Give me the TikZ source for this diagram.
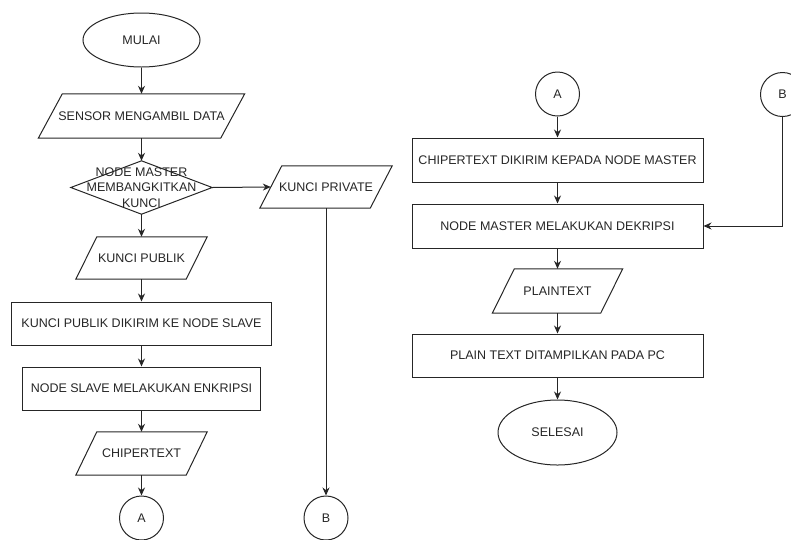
\documentclass[tikz,border=0pt]{standalone}
\usepackage{fontspec}
\setmainfont{Liberation Sans}
\usetikzlibrary{arrows.meta,shapes.geometric}
\begin{document}
\begin{tikzpicture}[x=1pt,y=-1pt,
  every node/.style={font=\fontsize{12.5}{15.5}\selectfont, inner sep=0pt, text=black!85},
  line/.style={line width=1pt, draw=black!85},
  term/.style={line, shape=ellipse, minimum width=117pt, minimum height=#1},
  proc/.style={line, shape=rectangle, minimum width=#1, minimum height=43pt},
  iobox/.style={shape=rectangle, minimum width=#1, minimum height=43pt},
  conn/.style={line, shape=circle, minimum size=44pt},
  arr/.style={line, -{Stealth[length=8pt,width=7pt]}}
]
\useasboundingbox (0,0) rectangle (791,539);

% left column
\node[term=54pt] (mulai) at (141.5,40) {MULAI};
\node[iobox=182pt, minimum height=44pt] (sensor) at (141.5,116) {SENSOR MENGAMBIL DATA};
\node[minimum width=141pt, minimum height=53pt, align=center] (dec) at (141.5,187.5) {NODE MASTER\\MEMBANGKITKAN\\KUNCI};
\node[iobox=110pt, minimum height=42pt] (kpriv) at (326,187) {KUNCI PRIVATE};
\node[iobox=110pt, minimum height=42pt] (kpub) at (141.5,258) {KUNCI PUBLIK};
\node[proc=260pt] (pa) at (141.5,323.5) {KUNCI PUBLIK DIKIRIM KE NODE SLAVE};
\node[proc=238pt] (pb) at (141.5,388.5) {NODE SLAVE MELAKUKAN ENKRIPSI};
\node[iobox=110pt] (chip) at (141.5,453.5) {CHIPERTEXT};
\node[conn] (aone) at (141.5,518) {A};
\node[conn] (bone) at (326,518) {B};

% right column
\node[conn] (atwo) at (557.5,94) {A};
\node[conn] (btwo) at (782.5,94.5) {B};
\node[proc=291pt, minimum height=44pt] (pc) at (557.5,160) {CHIPERTEXT DIKIRIM KEPADA NODE MASTER};
\node[proc=291pt, minimum height=44pt] (pd) at (557.5,226) {NODE MASTER MELAKUKAN DEKRIPSI};
\node[iobox=108pt, minimum height=44pt] (plain) at (557.5,291) {PLAINTEXT};
\node[proc=291pt] (pe) at (557.5,355.5) {PLAIN TEXT DITAMPILKAN PADA PC};
\node[term=65pt, minimum width=119pt] (selesai) at (557.5,432.5) {SELESAI};

% parallelograms
\foreach \n/\k in {sensor/12, kpriv/11, kpub/10.5, chip/10.5, plain/11}
  \draw[line] ([xshift=\k]\n.north west) -- ([xshift=\k]\n.north east)
    -- ([xshift=-\k]\n.south east) -- ([xshift=-\k]\n.south west) -- cycle;

% decision diamond
\draw[line] (dec.north) -- (dec.east) -- (dec.south) -- (dec.west) -- cycle;

% connectors
\draw[arr] (mulai.south) -- (sensor.north);
\draw[arr] (sensor.south) -- (dec.north);
\draw[arr] (dec.east) -- (kpriv.west);
\draw[arr] (dec.south) -- (kpub.north);
\draw[arr] (kpub.south) -- (pa.north);
\draw[arr] (pa.south) -- (pb.north);
\draw[arr] (pb.south) -- (chip.north);
\draw[arr] (chip.south) -- (aone.north);
\draw[arr] (kpriv.south) -- (bone.north);

\draw[arr] (atwo.south) -- (pc.north);
\draw[arr] (pc.south) -- (pd.north);
\draw[arr] (btwo.south) |- (pd.east);
\draw[arr] (pd.south) -- (plain.north);
\draw[arr] (plain.south) -- (pe.north);
\draw[arr] (pe.south) -- (selesai.north);
\end{tikzpicture}
\end{document}
